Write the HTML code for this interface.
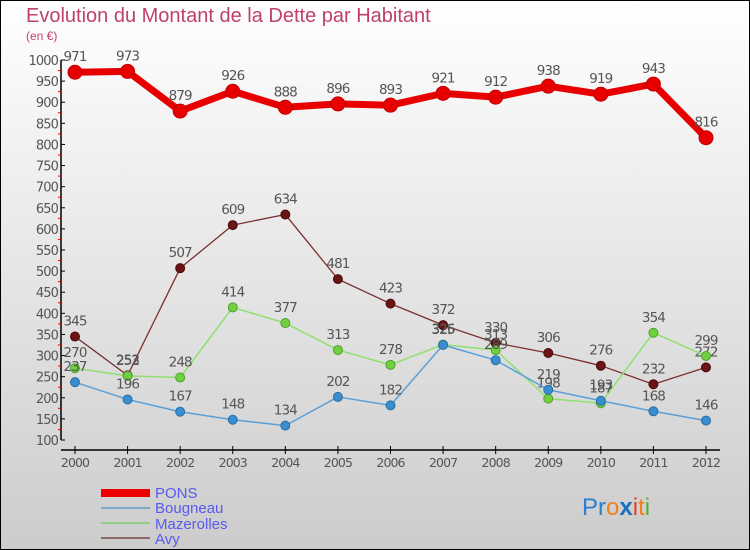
<!DOCTYPE html>
<html><head><meta charset="utf-8"><style>
body{margin:0}
svg{display:block;font-family:"DejaVu Sans","Liberation Sans",sans-serif}
</style></head><body>
<svg id="c" width="750" height="550">
<defs><linearGradient id="bg" x1="0" y1="0" x2="0" y2="1"><stop offset="0" stop-color="#ffffff"/><stop offset="1" stop-color="#cccccc"/></linearGradient></defs>
<rect x="0" y="0" width="750" height="550" fill="url(#bg)" stroke="#000" stroke-width="2"/>
<text x="26" y="22" font-size="20" font-family="Liberation Sans,sans-serif" fill="#c0406a">Evolution du Montant de la Dette par Habitant</text>
<text x="26" y="40" font-size="12" font-family="Liberation Sans,sans-serif" fill="#c0406a">(en €)</text>
<g id="axes"></g><g id="series"></g>
<g font-family="Liberation Sans,sans-serif">
<rect x="101" y="489" width="49" height="8" fill="#e00"/>
<text x="155" y="498" font-size="15" fill="#5a5af0">PONS</text>
<rect x="101" y="507" width="49" height="2" fill="#7fa8c8"/>
<text x="155" y="513" font-size="15" fill="#5a5af0">Bougneau</text>
<rect x="101" y="522" width="49" height="2" fill="#90d080"/>
<text x="155" y="529" font-size="15" fill="#5a5af0">Mazerolles</text>
<rect x="101" y="537" width="49" height="2" fill="#906868"/>
<text x="155" y="544" font-size="15" fill="#5a5af0">Avy</text>
</g>
<text x="582" y="515" font-size="24" font-family="Liberation Sans,sans-serif"><tspan fill="#2a7fd0">Pr</tspan><tspan fill="#f08020">o</tspan><tspan fill="#1a70c0" font-weight="bold">x</tspan><tspan fill="#e04020">i</tspan><tspan fill="#f08020">t</tspan><tspan fill="#50b030">i</tspan></text>
</svg>
<script>
const years=[2000,2001,2002,2003,2004,2005,2006,2007,2008,2009,2010,2011,2012];
const pons=[971,973,879,926,888,896,893,921,912,938,919,943,816];
const bougneau=[237,196,167,148,134,202,182,325,289,219,193,168,146];
const mazerolles=[270,252,248,414,377,313,278,326,313,198,187,354,299];
const avy=[345,253,507,609,634,481,423,372,330,306,276,232,272];
const yTicks=[100,150,200,250,300,350,400,450,500,550,600,650,700,750,800,850,900,950,1000];
const NS='http://www.w3.org/2000/svg';
const X=i=>75+i*(706-75)/(years.length-1);
const Y=v=>440-(v-100)*(380/900);
function mk(t,a,p){const e=document.createElementNS(NS,t);for(const k in a)e.setAttribute(k,a[k]);p.appendChild(e);return e;}
const ax=document.getElementById('axes');
const yl=mk('line',{x1:61,y1:Y(1000),x2:61,y2:440,stroke:'#000','stroke-width':1.5},ax);


yTicks.forEach(v=>{
 mk('line',{x1:61,x2:65,y1:Y(v),y2:Y(v),stroke:'#000'},ax);
 if(v<1000)mk('line',{x1:58,x2:61,y1:Y(v+25),y2:Y(v+25),stroke:'#e00'},ax);
 const t=mk('text',{x:58,y:Y(v)+5,'text-anchor':'end','font-size':13,fill:'#555','letter-spacing':'-0.9'},ax);
 t.textContent=v;
 
 
});
const xl=mk('line',{x1:61,y1:450,x2:720,y2:450,stroke:'#000','stroke-width':1.5},ax);


years.forEach((y,i)=>{
 mk('line',{x1:X(i),x2:X(i),y1:446,y2:454,stroke:'#000'},ax);
 const t=mk('text',{x:X(i),y:467,'text-anchor':'middle','font-size':12.5,fill:'#555','letter-spacing':'-0.9'},ax);
 t.textContent=y;
 
 
});
const sg=document.getElementById('series');
function series(name,vals,color,w,r,dot,stroke){
 const g=mk('g',{},sg);
 
 
 const l=mk('polyline',{points:vals.map((v,i)=>X(i)+','+Y(v)).join(' '),fill:'none',stroke:color,'stroke-width':w,'stroke-linejoin':'round'},g);
 
 
 vals.forEach((v,i)=>{
  const c=mk('circle',{cx:X(i),cy:Y(v),r:r,fill:dot,stroke:stroke,'stroke-width':1},g);
  
  
  const t=mk('text',{x:X(i),y:Y(v)-11,'text-anchor':'middle','font-size':13.5,fill:'#555','letter-spacing':'-0.9'},g);
  t.textContent=v;
  
  
 });
}
series('avy',avy,'#7a3030',1.3,4.5,'#6a1414','#4a0a0a');
series('mazerolles',mazerolles,'#90e070',1.5,4.5,'#70d040','#50a030');
series('bougneau',bougneau,'#5aa0d8',1.5,4.5,'#3a8ed0','#2a6ea0');
series('pons',pons,'#e80000',7,7,'#e80000','#c00000');
</script>
</body></html>
